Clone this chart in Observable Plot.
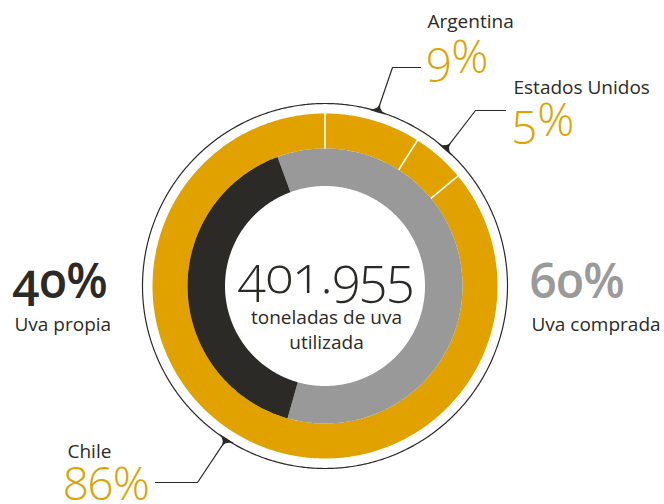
<!DOCTYPE html>
<html><head><meta charset="utf-8">
<script src="https://cdn.jsdelivr.net/npm/d3@7"></script>
<script src="https://cdn.jsdelivr.net/npm/@observablehq/plot@0.6"></script>
<style>
body{margin:0;background:#fff}
svg{font-variant-numeric:oldstyle-nums;font-feature-settings:"onum" 1;}
</style>
</head><body><div id="chart"></div>
<script>
// ---- data ----
const origins = ["Argentina", "Estados Unidos", "Chile"];
const originShares = [9, 5, 86];
const sources = ["Uva comprada", "Uva propia"];
const sourceShares = [60, 40];
const totalTons = "401.955";
const totalCaption = ["toneladas de uva", "utilizada"];

// ---- layout ----
const W = 664, H = 504, CX = 324.5, CY = 285.5;
const R_CIRCLE = 182.5, R_OUT = 172.5, R_MID = 137.5, R_IN = 100;
const OUTER_START = 0, INNER_START = -20.2;
const GOLD = "#e1a200", DARK = "#2b2a26", GRAY = "#989998", GRAYTXT = "#9a9a99";
const FONT = "Open Sans";
const originColors = [GOLD, GOLD, GOLD];
const sourceColors = [GRAY, DARK];
const callouts = [
  {angle: 16.8,  elbow: [392, 67],  end: [420, 67],  label: [427, 27],  value: [426, 72]},
  {angle: 41.3,  elbow: [475, 110], end: [505, 110], label: [513, 93],  value: [512, 135]},
  {angle: 212.8, elbow: [197, 482], end: [155, 482], label: [67, 457],  value: [63, 499]}
];

const pt = (r, deg) => { const a = deg * Math.PI / 180; return {x: r * Math.sin(a), y: r * Math.cos(a)}; };
const px = ([a, b]) => ({x: a - CX, y: CY - b});

function ringSlices(names, shares, start, r0, r1) {
  let a = start; const out = [];
  names.forEach((name, i) => {
    const a0 = a, a1 = a + shares[i] * 3.6; a = a1;
    const n = Math.max(2, Math.ceil((a1 - a0) / 0.5));
    const pts = [];
    for (let k = 0; k <= n; k++) pts.push({...pt(r1, a0 + (a1 - a0) * k / n), key: name});
    for (let k = n; k >= 0; k--) pts.push({...pt(r0, a0 + (a1 - a0) * k / n), key: name});
    out.push({name, i, a0, a1, pts});
  });
  return out;
}
const outer = ringSlices(origins, originShares, OUTER_START, R_MID, R_OUT);
const inner = ringSlices(sources, sourceShares, INNER_START, R_IN, R_MID);

const circlePts = d3.range(0, 360, 0.5).map(d => pt(R_CIRCLE, d));
const seps = outer.map(s => ({a: s.a0}));

function markerPoly(c) {
  const d = 2.8, a = c.angle;
  return [pt(R_CIRCLE - 0.8, a - d), pt(R_CIRCLE + 1.0, a - d * 0.5), pt(R_CIRCLE + 3.6, a - d * 0.18),
          pt(R_CIRCLE + 8, a), pt(R_CIRCLE + 3.6, a + d * 0.18), pt(R_CIRCLE + 1.0, a + d * 0.5),
          pt(R_CIRCLE - 0.8, a + d), pt(R_CIRCLE - 1.2, a)].map(p => ({...p, key: a}));
}
const leaderPts = callouts.flatMap((c, i) => [
  {...pt(R_CIRCLE + 6, c.angle), key: i}, {...px(c.elbow), key: i}, {...px(c.end), key: i}
]);

const calloutLabels = callouts.map((c, i) => ({...px(c.label), text: origins[i]}));
const calloutValues = callouts.map((c, i) => ({...px(c.value), text: originShares[i] + "%"}));

const marks = [];
outer.forEach(s => marks.push(Plot.line(s.pts, {x: "x", y: "y", fill: originColors[s.i], stroke: "none", curve: "linear-closed"})));
inner.forEach(s => marks.push(Plot.line(s.pts, {x: "x", y: "y", fill: sourceColors[s.i], stroke: "none", curve: "linear-closed"})));
marks.push(
  Plot.link(seps, {x1: d => pt(R_MID, d.a).x, y1: d => pt(R_MID, d.a).y, x2: d => pt(R_OUT + 1, d.a).x, y2: d => pt(R_OUT + 1, d.a).y, stroke: "white", strokeWidth: 1.6}),
  Plot.line(circlePts, {x: "x", y: "y", stroke: DARK, strokeWidth: 1.2, curve: "linear-closed"}),
  ...callouts.map(c => Plot.line(markerPoly(c), {x: "x", y: "y", fill: DARK, stroke: "none", curve: "linear-closed"})),
  Plot.line(leaderPts, {x: "x", y: "y", z: "key", stroke: DARK, strokeWidth: 1.2}),
  Plot.text(calloutLabels, {x: "x", y: "y", text: "text", textAnchor: "start", lineAnchor: "bottom", fontSize: 19, fill: DARK, fontFamily: FONT}),
  Plot.text(calloutValues, {x: "x", y: "y", text: "text", textAnchor: "start", lineAnchor: "bottom", fontSize: 46, fontWeight: 300, fill: GOLD, fontFamily: FONT}),
  // inner ring legend
  Plot.text([{...px([12, 297]), text: sourceShares[1] + "%"}], {x: "x", y: "y", text: "text", textAnchor: "start", lineAnchor: "bottom", fontSize: 48, fontWeight: 600, fill: DARK, fontFamily: FONT}),
  Plot.text([{...px([14, 330]), text: sources[1]}], {x: "x", y: "y", text: "text", textAnchor: "start", lineAnchor: "bottom", fontSize: 19, fill: DARK, fontFamily: FONT}),
  Plot.text([{...px([529, 297]), text: sourceShares[0] + "%"}], {x: "x", y: "y", text: "text", textAnchor: "start", lineAnchor: "bottom", fontSize: 48, fontWeight: 600, fill: GRAYTXT, fontFamily: FONT}),
  Plot.text([{...px([531, 330]), text: sources[0]}], {x: "x", y: "y", text: "text", textAnchor: "start", lineAnchor: "bottom", fontSize: 19, fill: DARK, fontFamily: FONT}),
  // center
  Plot.text([{...px([326, 292]), text: totalTons}], {x: "x", y: "y", text: "text", textAnchor: "middle", lineAnchor: "bottom", fontSize: 51, fontWeight: 300, fill: DARK, fontFamily: FONT}),
  Plot.text([{...px([326, 323]), text: totalCaption[0]}, {...px([326, 348]), text: totalCaption[1]}], {x: "x", y: "y", text: "text", textAnchor: "middle", lineAnchor: "bottom", fontSize: 19, fill: DARK, fontFamily: FONT})
);

const chart = Plot.plot({
  width: W, height: H, margin: 0,
  x: {domain: [-CX, W - CX], range: [0, W], axis: null},
  y: {domain: [CY - H, CY], range: [H, 0], axis: null},
  style: {background: "white", fontFamily: FONT, overflow: "visible"},
  marks
});
document.getElementById("chart").appendChild(chart);
</script>
</body></html>
